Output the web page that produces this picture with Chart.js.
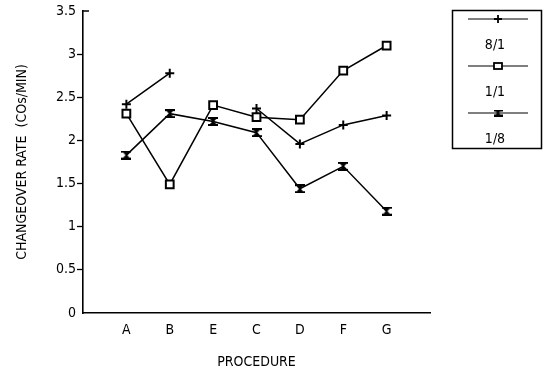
<!DOCTYPE html>
<html>
<head>
<meta charset="utf-8">
<script src="https://cdn.jsdelivr.net/npm/chart.js@4"></script>
<style>
  html, body { margin: 0; padding: 0; background: #fff; }
  #caja { width: 551px; height: 378px; position: relative; }
</style>
</head>
<body>
<div id="caja"><canvas id="grafico"></canvas></div>
<script>
// procedimientos en el eje x (con huecos a los lados)
const procedimientos = ['', 'A', 'B', 'E', 'C', 'D', 'F', 'G', '']
const serie81 = [null, 2.42, 2.78, null, 2.37, 1.96, 2.18, 2.29, null]
const serie11 = [null, 2.31, 1.49, 2.41, 2.27, 2.24, 2.81, 3.10, null]
const serie18 = [null, 1.83, 2.31, 2.22, 2.09, 1.44, 1.70, 1.18, null]
const nombres = ['8/1', '1/1', '1/8']
const marcasY = [0, 0.5, 1, 1.5, 2, 2.5, 3, 3.5]

const fuente = "'DejaVu Sans Condensed', 'Liberation Sans', Arial, sans-serif"
Chart.defaults.font.family = fuente
Chart.defaults.font.size = 14
Chart.defaults.color = '#000'

// reloj de arena relleno para la serie 1/8
function relojArena(w, h) {
  const c = document.createElement('canvas')
  c.width = w
  c.height = h
  const g = c.getContext('2d')
  g.fillStyle = '#000'
  g.fillRect(0, 0, w, 2)
  g.fillRect(0, h - 2, w, 2)
  g.beginPath()
  g.moveTo(1, 1)
  g.lineTo(w - 1, 1)
  g.lineTo(w / 2 + 0.8, h / 2)
  g.lineTo(w - 1, h - 1)
  g.lineTo(1, h - 1)
  g.lineTo(w / 2 - 0.8, h / 2)
  g.closePath()
  g.fill()
  return c
}
const marcaReloj = relojArena(10, 9)
const marcaRelojChica = relojArena(9, 7)

function dibujarMarca(ctx, tipo, x, y) {
  ctx.save()
  ctx.strokeStyle = '#000'
  ctx.fillStyle = '#fff'
  ctx.lineWidth = 1.8
  if (tipo === 0) {
    ctx.beginPath()
    ctx.moveTo(x - 4, y); ctx.lineTo(x + 4, y)
    ctx.moveTo(x, y - 4); ctx.lineTo(x, y + 4)
    ctx.stroke()
  } else if (tipo === 1) {
    ctx.fillRect(x - 4, y - 3, 8, 6)
    ctx.strokeRect(x - 4, y - 3, 8, 6)
  } else {
    ctx.drawImage(marcaRelojChica, x - 4.5, y - 3.5)
  }
  ctx.restore()
}

// leyenda en caja a la derecha: linea con marca y el nombre debajo
const leyendaCaja = {
  id: 'leyendaCaja',
  afterDraw(chart) {
    const ctx = chart.ctx
    ctx.save()
    ctx.strokeStyle = '#000'
    ctx.lineWidth = 1.5
    ctx.strokeRect(452.5, 10.5, 89, 138)
    ctx.font = '14px ' + fuente
    ctx.fillStyle = '#000'
    ctx.textAlign = 'center'
    ctx.textBaseline = 'middle'
    nombres.forEach((nombre, i) => {
      const y = 19 + i * 47
      ctx.lineWidth = 1.2
      ctx.beginPath()
      ctx.moveTo(468, y)
      ctx.lineTo(528, y)
      ctx.stroke()
      dibujarMarca(ctx, i, 498, y)
      ctx.fillText(nombre, 495, y + 26)
    })
    // remate superior del eje y
    const ey = chart.scales.y
    const yTope = ey.getPixelForValue(3.5)
    ctx.lineWidth = 1.5
    ctx.beginPath()
    ctx.moveTo(chart.chartArea.left, yTope)
    ctx.lineTo(chart.chartArea.left + 6, yTope)
    ctx.stroke()
    ctx.restore()
  }
}

function serie(nombre, valores, estilo, radio) {
  return {
    label: nombre,
    data: valores,
    borderColor: '#000',
    borderWidth: 1.5,
    pointStyle: estilo,
    pointRadius: radio,
    pointBorderWidth: 2,
    pointBackgroundColor: '#fff',
    pointBorderColor: '#000',
    spanGaps: false,
    tension: 0
  }
}

new Chart(document.getElementById('grafico'), {
  type: 'line',
  data: {
    labels: procedimientos,
    datasets: [
      serie(nombres[0], serie81, 'cross', 4.5),
      serie(nombres[1], serie11, 'rect', 5.5),
      serie(nombres[2], serie18, marcaReloj, 5)
    ]
  },
  options: {
    responsive: true,
    maintainAspectRatio: false,
    animation: false,
    layout: { padding: { top: 11, right: 121, bottom: 0, left: 0 } },
    plugins: { legend: { display: false }, tooltip: { enabled: false } },
    scales: {
      x: {
        offset: false,
        grid: { drawOnChartArea: false, drawTicks: false },
        border: { color: '#000', width: 1.6 },
        ticks: { autoSkip: false, maxRotation: 0, padding: 9 },
        title: { display: true, text: 'PROCEDURE', padding: { top: 0, bottom: 7 } },
        afterFit(escala) { escala.height = 65 }
      },
      y: {
        min: 0,
        max: 3.5,
        afterBuildTicks(escala) { escala.ticks = marcasY.map(v => ({ value: v })) },
        grid: {
          drawOnChartArea: false,
          tickLength: 6,
          tickWidth: 1.3,
          tickColor: c => (c.tick && (c.tick.value === 0 || c.tick.value === 3.5)) ? 'rgba(0,0,0,0)' : '#000'
        },
        border: { color: '#000', width: 1.6 },
        ticks: { padding: 1, callback: v => String(v) },
        title: { display: true, text: 'CHANGEOVER RATE  (COs/MIN)', padding: { top: 14, bottom: 0 } },
        afterFit(escala) { escala.width = 83 }
      }
    }
  },
  plugins: [leyendaCaja]
})
</script>
</body>
</html>
